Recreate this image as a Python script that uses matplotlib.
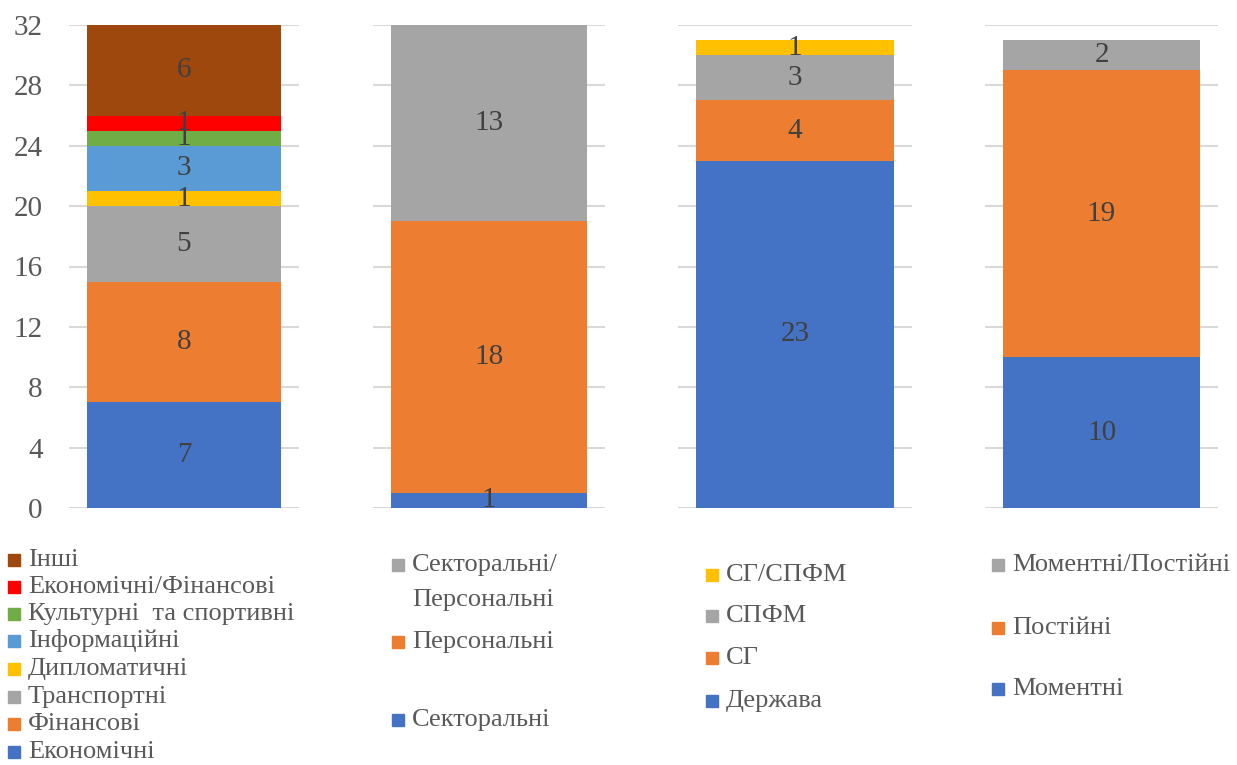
import matplotlib
matplotlib.use('Agg')
import matplotlib.pyplot as plt
from matplotlib.patches import Rectangle

plt.rcParams['font.family'] = ['Liberation Serif', 'DejaVu Serif']

# --- data ---
cats1 = ['Економічні', 'Фінансові', 'Транспортні', 'Дипломатичні', 'Інформаційні',
         'Культурні  та спортивні', 'Економічні/Фінансові', 'Інші']
vals1 = [7, 8, 5, 1, 3, 1, 1, 6]
cols1 = ['#4472C4', '#ED7D31', '#A5A5A5', '#FFC000', '#5B9BD5', '#70AD47', '#FF0000', '#9E480E']

cats2 = ['Секторальні', 'Персональні', 'Секторальні/\nПерсональні']
vals2 = [1, 18, 13]
cols2 = ['#4472C4', '#ED7D31', '#A5A5A5']

cats3 = ['Держава', 'СГ', 'СПФМ', 'СГ/СПФМ']
vals3 = [23, 4, 3, 1]
cols3 = ['#4472C4', '#ED7D31', '#A5A5A5', '#FFC000']

cats4 = ['Моментні', 'Постійні', 'Моментні/Постійні']
vals4 = [10, 19, 2]
cols4 = ['#4472C4', '#ED7D31', '#A5A5A5']

yticks = [0, 4, 8, 12, 16, 20, 24, 28, 32]

W, H = 1237, 765
fig = plt.figure(figsize=(W / 100, H / 100), dpi=100)

# axes spans in pixels (left, right)
spans = [(69, 299), (373, 605), (678, 912), (985, 1218)]
top_px, bot_px = 25, 508

# legend layout: square x, row y's (pixels, first line of each entry, top to bottom)
leg_x = [8, 392, 706, 992]
leg_rows = [
    [560, 587, 614, 641, 669, 697, 724, 752],
    [565, 642, 720],
    [575, 616, 658, 701],
    [565, 628, 689],
]

charts = [(cats1, vals1, cols1), (cats2, vals2, cols2), (cats3, vals3, cols3), (cats4, vals4, cols4)]


def px2fig(x, y):
    return x / W, 1 - y / H


for i, (cats, vals, cols) in enumerate(charts):
    l, r = spans[i]
    ax = fig.add_axes([l / W, 1 - bot_px / H, (r - l) / W, (bot_px - top_px) / H])
    bottom = 0
    for v, c in zip(vals, cols):
        ax.bar(0, v, bottom=bottom, width=0.845, color=c, zorder=2)
        ax.text(0, bottom + v / 2, str(v), ha='center', va='center',
                fontsize=21, color='#404040', zorder=3)
        bottom += v
    ax.set_xlim(-0.5, 0.5)
    ax.set_ylim(0, 32)
    ax.set_yticks(yticks)
    ax.yaxis.grid(True, color='#D9D9D9', linewidth=1.5, zorder=0)
    ax.set_axisbelow(True)
    ax.set_xticks([])
    for s in ax.spines.values():
        s.set_visible(False)
    if i == 0:
        ax.tick_params(axis='y', length=0, pad=19, labelsize=21, labelcolor='#595959')
    else:
        ax.tick_params(axis='y', length=0, labelleft=False)

    # legend, top entry = top segment
    rows = leg_rows[i]
    for lab, c, y in zip(cats[::-1], cols[::-1], rows):
        x0, y0 = px2fig(leg_x[i], y + 6)
        fig.add_artist(Rectangle((x0, y0), 12 / W, 12 / H, color=c, transform=fig.transFigure))
        for k, line in enumerate(lab.split('\n')):
            tx, ty = px2fig(leg_x[i] + 20, y + k * 35)
            fig.text(tx, ty, line, ha='left', va='center', fontsize=19, color='#595959')

fig.savefig('out.png', dpi=100, facecolor='white')
